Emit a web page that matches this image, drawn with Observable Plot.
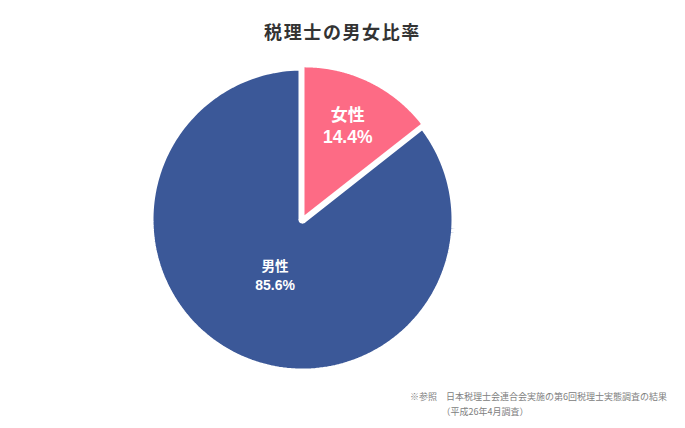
<!DOCTYPE html>
<html>
<head>
<meta charset="utf-8">
<script src="https://cdn.jsdelivr.net/npm/d3@7"></script>
<script src="https://cdn.jsdelivr.net/npm/@observablehq/plot@0.6"></script>
<style>
  html, body { margin: 0; padding: 0; background: #fff; }
  #wrap { position: relative; width: 685px; height: 428px; overflow: hidden; font-family: "Noto Sans CJK JP", "Noto Sans", sans-serif; }
  #title { position: absolute; left: 0; top: 17px; width: 685px; text-align: center; font-size: 18px; font-weight: bold; color: #333; letter-spacing: 1.6px; line-height: 28px; }
  #chart { position: absolute; left: 0; top: 0; }
  #caption { position: absolute; left: 410px; top: 389px; font-size: 9px; color: #808080; line-height: 15px; white-space: pre; }
</style>
</head>
<body>
<div id="wrap">
  <div id="chart"></div>
  <div id="title"></div>
  <div id="caption"></div>
</div>
<script>
const titleText = "税理士の男女比率";
const categories = ["女性", "男性"];
const values = [14.4, 85.6];
const percentLabels = ["14.4%", "85.6%"];
const colors = ["#fd6b85", "#3b5898"];
const captionLines = ["※参照　日本税理士会連合会実施の第6回税理士実態調査の結果", "　　　　（平成26年4月調査）"];

document.getElementById("title").textContent = titleText;
document.getElementById("caption").textContent = captionLines.join("\n");

const W = 685, H = 428;
const cx = 302, cy = 219, R = 153;   // pixel layout of the pie
// per-slice styling: radius, explode offset, stroke, label radius, font size, line gap
const style = {
  "女性": {r: 148 / 153, offset: 0.03, strokeWidth: 0, labelR: 0.646, fontSize: 17, gap: 21},
  "男性": {r: 1, offset: 0, strokeWidth: 8, labelR: 0.41, fontSize: 13.5, gap: 19}
};

const arcs = d3.pie().sort(null).value(d => d)(values);
const polys = [];
const labelRows = [];
arcs.forEach((a, i) => {
  const cat = categories[i];
  const s = style[cat];
  const mid = (a.startAngle + a.endAngle) / 2;
  const ox = s.offset * Math.sin(mid), oy = s.offset * Math.cos(mid);
  const pts = [{cat, x: ox, y: oy}];
  const n = 200;
  for (let k = 0; k <= n; k++) {
    const t = a.startAngle + (a.endAngle - a.startAngle) * k / n;
    pts.push({cat, x: ox + s.r * Math.sin(t), y: oy + s.r * Math.cos(t)});
  }
  pts.push({cat, x: ox, y: oy});
  polys.push({cat, pts, color: colors[i], sw: s.strokeWidth});
  labelRows.push({
    cat, x: ox + s.labelR * Math.sin(mid), y: oy + s.labelR * Math.cos(mid),
    name: cat, pct: percentLabels[i], fontSize: s.fontSize, gap: s.gap
  });
});

const marks = [];
polys.slice().reverse().forEach(p => {
  marks.push(Plot.line(p.pts, {
    x: "x", y: "y", fill: p.color, stroke: p.sw ? "#fff" : "none",
    strokeWidth: p.sw, strokeLinejoin: "round", curve: "linear"
  }));
});
labelRows.forEach(l => {
  marks.push(Plot.text([l], {
    x: "x", y: "y", text: "name", dy: -l.gap / 2, fill: "#fff", fontSize: l.fontSize,
    fontWeight: "bold", fontFamily: "'Noto Sans CJK JP', sans-serif"
  }));
  marks.push(Plot.text([l], {
    x: "x", y: "y", text: "pct", dy: l.gap / 2, fill: "#fff", fontSize: l.fontSize + 0.5,
    fontWeight: "bold", fontFamily: "'Liberation Sans', Arial, sans-serif"
  }));
});

const chart = Plot.plot({
  width: W, height: H,
  margin: 0,
  x: {domain: [-cx / R, (W - cx) / R], range: [0, W], axis: null},
  y: {domain: [-(H - cy) / R, cy / R], range: [H, 0], axis: null},
  style: {background: "transparent", overflow: "visible"},
  marks
});
document.getElementById("chart").appendChild(chart);
</script>
</body>
</html>
